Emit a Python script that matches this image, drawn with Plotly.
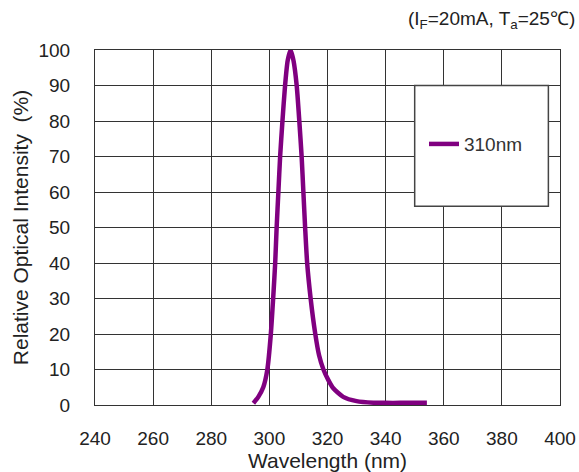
import plotly.graph_objects as go

wavelength = [294.5, 296.2, 297.9, 299.3, 300.5, 301.3, 302.0, 302.5, 303.1, 303.7, 304.5, 305.4, 306.3,
              307.3, 308.3, 309.4, 310.3, 311.1, 311.7, 312.3, 313.0, 314.2, 315.8, 317.1, 318.6,
              320.3, 322.0, 325.4, 330.0, 335.8, 340, 345, 350, 354.2]
intensity = [0.5, 2.3, 5, 10, 20, 30, 40, 50, 60, 70, 80, 90, 97,
             100, 97, 90, 80, 70, 60, 50, 40, 30, 20, 14, 10,
             7, 4.7, 2.3, 1.1, 0.65, 0.6, 0.6, 0.6, 0.6]
series_name = "310nm"
x_ticks = [240, 260, 280, 300, 320, 340, 360, 380, 400]
y_ticks = [0, 10, 20, 30, 40, 50, 60, 70, 80, 90, 100]

PURPLE = "#800080"
GRID = "#333333"
FONT = "Liberation Sans, Arial, sans-serif"

fig = go.Figure()
fig.add_trace(go.Scatter(x=wavelength, y=intensity, mode="lines", name=series_name,
                         line=dict(color=PURPLE, width=4.5, shape="spline", smoothing=0.6)))

fig.update_layout(
    width=579, height=472,
    margin=dict(l=95, r=19, t=50, b=67),
    paper_bgcolor="white", plot_bgcolor="white",
    font=dict(family=FONT, size=19, color="#222222"),
    showlegend=True,
    legend=dict(x=(353.2 - 240) / 160, y=73.5 / 100, xanchor="left", yanchor="middle",
                bgcolor="rgba(0,0,0,0)", borderwidth=0, font=dict(size=19, color="#333333"),
                itemwidth=30),
    xaxis=dict(range=[240, 400], tickvals=x_ticks, showgrid=True, gridcolor=GRID, gridwidth=1,
               showline=True, linecolor=GRID, linewidth=1, mirror=True, zeroline=False,
               ticks="", ticklabelstandoff=16, automargin=False,
               title=dict(text="Wavelength (nm)", font=dict(size=21), standoff=0)),
    yaxis=dict(range=[0, 100], tickvals=y_ticks, showgrid=True, gridcolor=GRID, gridwidth=1,
               showline=True, linecolor=GRID, linewidth=1, mirror=True, zeroline=False,
               ticks="", ticklabelstandoff=20, automargin=False,
               title=dict(text="Relative Optical Intensity  (%)", font=dict(size=21), standoff=4)),
    shapes=[dict(type="rect", xref="x", yref="y", x0=350, x1=396, y0=56, y1=90,
                 fillcolor="white", line=dict(color="#444444", width=1.5), layer="above")],
    annotations=[dict(text="(I<sub>F</sub>=20mA, T<sub>a</sub>=25\u2103)", xref="paper", yref="paper",
                      x=(577 - 95) / 465, y=(405 - 20) / 355, xanchor="right", yanchor="middle",
                      showarrow=False, font=dict(size=19, color="#222222"))],
)

fig.write_html("out.html", config={"displayModeBar": False},
               post_script="document.body.style.margin='0';")
